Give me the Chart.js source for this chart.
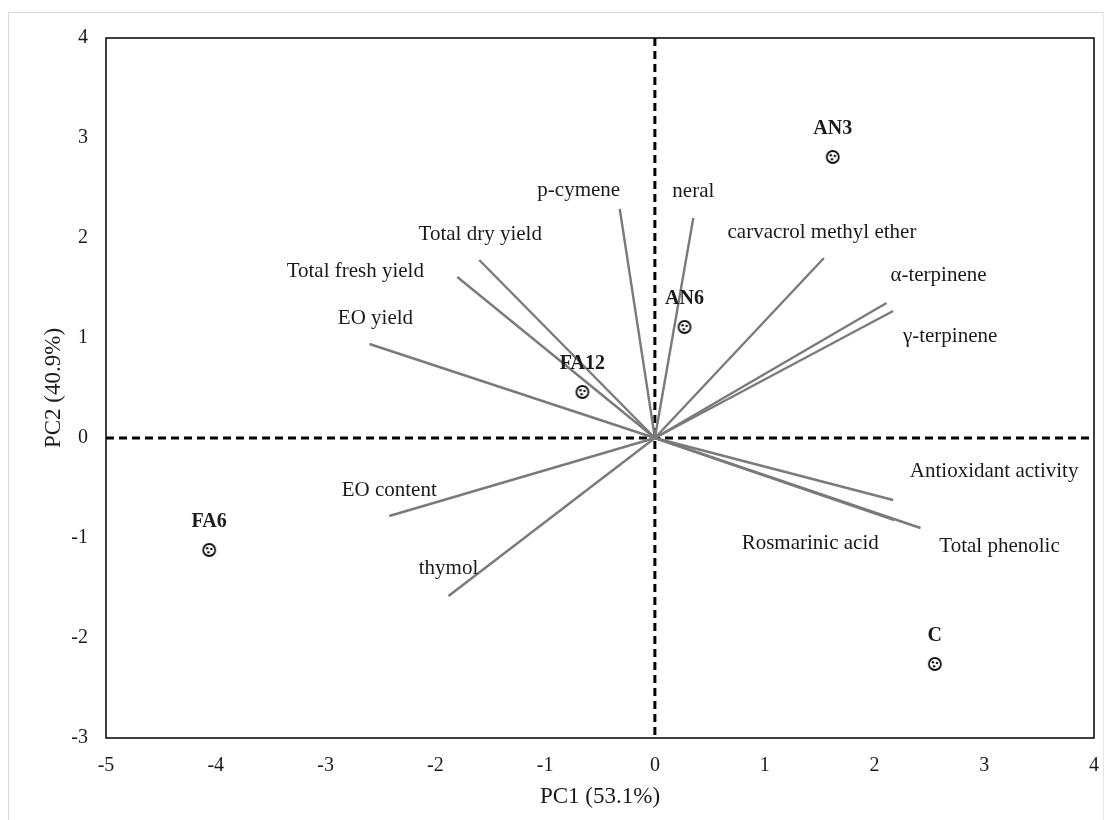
<!DOCTYPE html>
<html>
<head>
<meta charset="utf-8">
<script src="https://cdn.jsdelivr.net/npm/chart.js@4.4.1/dist/chart.umd.min.js"></script>
<style>
  html, body { margin: 0; padding: 0; background: #fff; }
  #wrap { position: relative; width: 1112px; height: 820px; }
  #frame { position: absolute; left: 8px; top: 12px; width: 1096px; height: 820px;
           border-left: 1.5px solid #d9d9d9; border-top: 1.5px solid #d9d9d9; border-right: 1.5px solid #e6e6e6; box-sizing: border-box; }
  canvas { position: absolute; left: 0; top: 0; }
</style>
</head>
<body>
<div id="wrap">
  <div id="frame"></div>
  <canvas id="biplot" width="1112" height="820"></canvas>
</div>
<script>
// Variable loadings (PC1, PC2)
const variables = ['p-cymene', 'neral', 'carvacrol methyl ether', 'α-terpinene', 'γ-terpinene',
  'Antioxidant activity', 'Total phenolic', 'Rosmarinic acid', 'thymol', 'EO content',
  'EO yield', 'Total fresh yield', 'Total dry yield'];
const loadingPC1 = [-0.32, 0.35, 1.54, 2.11, 2.17, 2.17, 2.42, 2.18, -1.88, -2.42, -2.60, -1.80, -1.60];
const loadingPC2 = [2.29, 2.20, 1.80, 1.35, 1.27, -0.62, -0.90, -0.82, -1.58, -0.78, 0.94, 1.61, 1.78];

// Treatment scores (PC1, PC2)
const treatments = ['AN3', 'AN6', 'FA12', 'FA6', 'C'];
const scorePC1 = [1.62, 0.27, -0.66, -4.06, 2.55];
const scorePC2 = [2.81, 1.11, 0.46, -1.12, -2.26];

// Axis ticks
const xTicks = [-5, -4, -3, -2, -1, 0, 1, 2, 3, 4];
const yTicks = [-3, -2, -1, 0, 1, 2, 3, 4];

// Pixel offsets of each variable label from the tip of its vector
const labelOffsets = {
  'p-cymene': [-41, -19], 'neral': [0, -27], 'carvacrol methyl ether': [-2, -26],
  'α-terpinene': [52, -28], 'γ-terpinene': [57, 25], 'Antioxidant activity': [101, -29],
  'Total phenolic': [79, 18], 'Rosmarinic acid': [-84, 23], 'thymol': [0, -28],
  'EO content': [0, -26], 'EO yield': [6, -26], 'Total fresh yield': [-102, -6],
  'Total dry yield': [1, -26]
};

const SERIF = '"Liberation Serif", "Times New Roman", serif';

// Marker: small open circle with dots inside
function makeMarker() {
  const c = document.createElement('canvas');
  c.width = 18; c.height = 18;
  const g = c.getContext('2d');
  g.beginPath();
  g.arc(9, 9, 6, 0, Math.PI * 2);
  g.fillStyle = '#fff';
  g.fill();
  g.lineWidth = 1.8;
  g.strokeStyle = '#111';
  g.stroke();
  g.fillStyle = '#111';
  [[7, 7.2], [11.1, 8], [8.2, 11.3]].forEach(([x, y]) => {
    g.beginPath(); g.arc(x, y, 1.2, 0, Math.PI * 2); g.fill();
  });
  return c;
}
const marker = makeMarker();

const vectorSets = variables.map((name, i) => ({
  type: 'line',
  label: name,
  data: [{ x: 0, y: 0 }, { x: loadingPC1[i], y: loadingPC2[i] }],
  borderColor: '#7a7a7a',
  borderWidth: 2.4,
  pointRadius: 0,
  fill: false,
  order: 2
}));

const scoreSet = {
  type: 'scatter',
  label: 'scores',
  data: treatments.map((t, i) => ({ x: scorePC1[i], y: scorePC2[i] })),
  pointStyle: marker,
  pointRadius: 9,
  order: 1
};

const decorations = {
  id: 'decorations',
  beforeDatasetsDraw(chart) {
    const { ctx, chartArea: a, scales: { x, y } } = chart;
    ctx.save();
    ctx.strokeStyle = '#000';
    ctx.lineWidth = 3;
    ctx.setLineDash([8, 5]);
    const x0 = x.getPixelForValue(0), y0 = y.getPixelForValue(0);
    ctx.beginPath();
    ctx.moveTo(x0, a.top); ctx.lineTo(x0, a.bottom);
    ctx.moveTo(a.left, y0); ctx.lineTo(a.right, y0);
    ctx.stroke();
    ctx.restore();
  },
  afterDatasetsDraw(chart) {
    const { ctx, chartArea: a, scales: { x, y } } = chart;
    ctx.save();
    // plot frame
    ctx.strokeStyle = '#000';
    ctx.lineWidth = 1.5;
    ctx.strokeRect(a.left, a.top, a.right - a.left, a.bottom - a.top);

    // variable labels
    ctx.fillStyle = '#1a1a1a';
    ctx.textAlign = 'center';
    ctx.textBaseline = 'middle';
    ctx.font = '21px ' + SERIF;
    variables.forEach((name, i) => {
      const off = labelOffsets[name] || [0, -26];
      ctx.fillText(name, x.getPixelForValue(loadingPC1[i]) + off[0], y.getPixelForValue(loadingPC2[i]) + off[1]);
    });

    // treatment labels
    ctx.font = 'bold 20px ' + SERIF;
    treatments.forEach((t, i) => {
      ctx.fillText(t, x.getPixelForValue(scorePC1[i]), y.getPixelForValue(scorePC2[i]) - 28);
    });

    // axis titles
    ctx.font = '23px ' + SERIF;
    ctx.fillText('PC1 (53.1%)', (a.left + a.right) / 2, 797);
    ctx.translate(54, (a.top + a.bottom) / 2);
    ctx.rotate(-Math.PI / 2);
    ctx.fillText('PC2 (40.9%)', 0, 0);
    ctx.restore();
  }
};

new Chart(document.getElementById('biplot'), {
  data: { datasets: [...vectorSets, scoreSet] },
  options: {
    responsive: false,
    animation: false,
    layout: { padding: { left: 0, top: 38, right: 18, bottom: 0 } },
    plugins: { legend: { display: false }, tooltip: { enabled: false } },
    scales: {
      x: {
        type: 'linear', min: xTicks[0], max: xTicks[xTicks.length - 1],
        afterBuildTicks: s => { s.ticks = xTicks.map(v => ({ value: v })); },
        afterFit: s => { s.height = 82; s.paddingLeft = 0; s.paddingRight = 0; },
        grid: { display: false, drawTicks: false },
        border: { display: false },
        ticks: { padding: 16, color: '#1a1a1a', font: { family: SERIF, size: 20 } }
      },
      y: {
        type: 'linear', min: yTicks[0], max: yTicks[yTicks.length - 1],
        afterBuildTicks: s => { s.ticks = yTicks.map(v => ({ value: v })); },
        afterFit: s => { s.width = 106; },
        grid: { display: false, drawTicks: false },
        border: { display: false },
        ticks: { padding: 18, color: '#1a1a1a', font: { family: SERIF, size: 20 } }
      }
    }
  },
  plugins: [decorations]
});
</script>
</body>
</html>
